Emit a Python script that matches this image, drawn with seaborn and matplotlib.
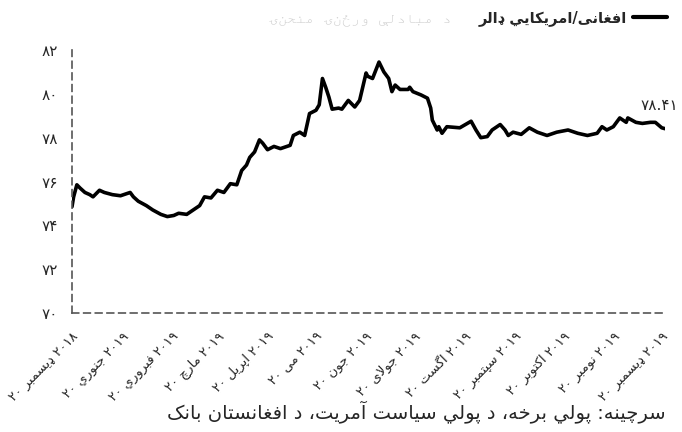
import re
import pandas as pd
import matplotlib
matplotlib.use("Agg")
import matplotlib.pyplot as plt
import seaborn as sns
from matplotlib import font_manager, ft2font

# ---------------- data ----------------
start_date = "2018-12-20"
day_offsets = [0, 1, 3, 5, 8, 11, 13, 17, 20, 25, 30, 36, 38, 41, 46, 50, 55, 59, 63, 66,
               71, 75, 79, 82, 86, 90, 94, 98, 102, 105, 108, 110, 113, 116, 118, 121, 125,
               129, 135, 137, 141, 144, 147, 151, 153, 155, 157, 159, 161, 165, 167, 171,
               175, 178, 182, 183, 186, 190, 193, 196, 198, 200, 203, 208, 209, 211, 216,
               220, 222, 223, 226, 227, 229, 232, 240, 247, 250, 253, 257, 260, 265, 268,
               270, 273, 278, 283, 288, 294, 300, 307, 313, 319, 325, 328, 331, 335, 339,
               343, 344, 349, 353, 358, 361, 365, 367]
rate = [74.85, 75.3, 75.85, 75.7, 75.5, 75.4, 75.3, 75.6, 75.5, 75.4, 75.35, 75.5, 75.3,
        75.1, 74.9, 74.7, 74.5, 74.4, 74.45, 74.55, 74.5, 74.7, 74.9, 75.3, 75.25, 75.6,
        75.5, 75.9, 75.85, 76.5, 76.75, 77.1, 77.35, 77.9, 77.75, 77.45, 77.6, 77.5, 77.65,
        78.1, 78.25, 78.1, 79.1, 79.25, 79.5, 80.7, 80.3, 79.85, 79.3, 79.35, 79.3, 79.7,
        79.4, 79.7, 80.95, 80.8, 80.7, 81.45, 81.0, 80.7, 80.1, 80.4, 80.2, 80.2, 80.3,
        80.1, 79.95, 79.8, 79.35, 78.8, 78.35, 78.5, 78.2, 78.5, 78.45, 78.75, 78.35, 78.0,
        78.05, 78.35, 78.6, 78.35, 78.1, 78.25, 78.15, 78.45, 78.25, 78.1, 78.25, 78.35,
        78.2, 78.1, 78.2, 78.5, 78.35, 78.5, 78.9, 78.7, 78.9, 78.7, 78.65, 78.7, 78.7,
        78.45, 78.41]
last_label = "78.41"
y_ticks = [70, 72, 74, 76, 78, 80, 82]
tick_dates = ["2018-12-20", "2019-01-20", "2019-02-20", "2019-03-20", "2019-04-20",
              "2019-05-20", "2019-06-20", "2019-07-20", "2019-08-20", "2019-09-20",
              "2019-10-20", "2019-11-20", "2019-12-20"]
month_names = ["ډيسمبر", "جنوري", "فبروري", "مارچ", "اپريل", "مى", "جون", "جولاى",
               "اگست", "سپتمبر", "اکتوبر", "نومبر", "ډيسمبر"]
tick_years = ["2018"] + ["2019"] * 12
series_name = "افغانی/امريکايي ډالر"
title_faded = "د مبادلې ورځنۍ منحنۍ"
source_text = "سرچینه: پولي برخه، د پولي سياست آمريت، د افغانستان بانک"

# ---------------- Arabic presentation forms ----------------
def F(a, b, c=None, d=None):
    return tuple(chr(x) if x else None for x in (a, b, c, d))


FORMS = {
    'ا': F(0xFE8D, 0xFE8E), 'آ': F(0xFE81, 0xFE82),
    'ب': F(0xFE8F, 0xFE90, 0xFE91, 0xFE92), 'ت': F(0xFE95, 0xFE96, 0xFE97, 0xFE98),
    'ج': F(0xFE9D, 0xFE9E, 0xFE9F, 0xFEA0), 'ح': F(0xFEA1, 0xFEA2, 0xFEA3, 0xFEA4),
    'خ': F(0xFEA5, 0xFEA6, 0xFEA7, 0xFEA8), 'د': F(0xFEA9, 0xFEAA),
    'ر': F(0xFEAD, 0xFEAE), 'ز': F(0xFEAF, 0xFEB0),
    'س': F(0xFEB1, 0xFEB2, 0xFEB3, 0xFEB4), 'ش': F(0xFEB5, 0xFEB6, 0xFEB7, 0xFEB8),
    'ع': F(0xFEC9, 0xFECA, 0xFECB, 0xFECC), 'غ': F(0xFECD, 0xFECE, 0xFECF, 0xFED0),
    'ف': F(0xFED1, 0xFED2, 0xFED3, 0xFED4), 'ق': F(0xFED5, 0xFED6, 0xFED7, 0xFED8),
    'ل': F(0xFEDD, 0xFEDE, 0xFEDF, 0xFEE0), 'م': F(0xFEE1, 0xFEE2, 0xFEE3, 0xFEE4),
    'ن': F(0xFEE5, 0xFEE6, 0xFEE7, 0xFEE8), 'ه': F(0xFEE9, 0xFEEA, 0xFEEB, 0xFEEC),
    'و': F(0xFEED, 0xFEEE), 'ى': F(0xFEEF, 0xFEF0),
    'ي': F(0xFEF1, 0xFEF2, 0xFEF3, 0xFEF4),
    'پ': F(0xFB56, 0xFB57, 0xFB58, 0xFB59), 'چ': F(0xFB7A, 0xFB7B, 0xFB7C, 0xFB7D),
    'ک': F(0xFB8E, 0xFB8F, 0xFB90, 0xFB91), 'گ': F(0xFB92, 0xFB93, 0xFB94, 0xFB95),
    'ی': F(0xFBFC, 0xFBFD, 0xFBFE, 0xFBFF), 'ې': F(0xFBE4, 0xFBE5, 0xFBE6, 0xFBE7),
    'LA': F(0xFEFB, 0xFEFC), 'LAA': F(0xFEF5, 0xFEF6),
}


def cmap_of(path):
    return ft2font.FT2Font(path).get_charmap()


def shape_word(w, cmap):
    """Contextual forms, returned in visual (left-to-right) order."""
    def forms(t):
        f = FORMS.get(t)
        if f is None:
            return None
        f = tuple(x if (x is not None and ord(x) in cmap) else None for x in f)
        return f if f[0] else None

    toks, i = [], 0
    while i < len(w):
        if w[i] == 'ل' and i + 1 < len(w) and w[i + 1] in 'اآ':
            toks.append('LA' if w[i + 1] == 'ا' else 'LAA')
            i += 2
        else:
            toks.append(w[i])
            i += 1
    out = []
    for k, t in enumerate(toks):
        f = forms(t)
        if f is None:
            out.append({'LA': 'لا', 'LAA': 'لآ'}.get(t, t)[::-1])
            continue
        pf = forms(toks[k - 1]) if k > 0 else None
        nf = forms(toks[k + 1]) if k + 1 < len(toks) else None
        jp = pf is not None and pf[2] is not None and f[1] is not None
        jn = f[2] is not None and nf is not None and nf[1] is not None
        if jp and jn and f[3]:
            g = f[3]
        elif jp:
            g = f[1]
        elif jn:
            g = f[2]
        else:
            g = f[0]
        out.append(g)
    return ''.join(reversed(out))


PDIG = {str(d): chr(0x06F0 + d) for d in range(10)}
LRM = "\u200E"
DIGITS = re.compile(r'^[\u06F0-\u06F90-9.]+$')


def pdigits(s):
    return "".join(PDIG.get(c, c) for c in s)


def word_vis(w, cmap, punct_left):
    if DIGITS.match(w):
        return w
    m = re.match(r'^(.*?)([:،]*)$', w)
    core = shape_word(m.group(1), cmap)
    return (m.group(2) + core) if punct_left else (core + m.group(2))


def prep_ltr(s, cmap):
    # date labels: words kept left-to-right as in the reference
    s = pdigits(s)
    return LRM + (" " + LRM).join(word_vis(w, cmap, False) for w in s.split(" ")) + LRM


def prep_rtl(s, cmap):
    # proper right-to-left line: first word at the right end
    s = pdigits(s)
    words = []
    for w in s.split(" "):
        parts = [word_vis(p, cmap, True) for p in w.split("/")]
        words.append((LRM + "/" + LRM).join(reversed(parts)))
    return LRM + (" " + LRM).join(reversed(words)) + LRM


# fonts
dv_path = font_manager.findfont("DejaVu Sans")
dv_bold_path = font_manager.findfont(font_manager.FontProperties(family="DejaVu Sans",
                                                                 weight="bold"))
DV = cmap_of(dv_path)
DVB = cmap_of(dv_bold_path)
title_path = None
for f in sorted(font_manager.findSystemFonts()):
    try:
        cm = cmap_of(f)
    except Exception:
        continue
    if 0x06CD in cm and 0x0681 in cm and 0xFEE3 in cm and 0xFBE5 in cm \
            and "unifont" not in f.lower() and "italic" not in f.lower():
        title_path = f
        break
if title_path is None:
    title_path = dv_path
TCM = cmap_of(title_path)

# ---------------- plot ----------------
sns.set_style("white")
plt.rcParams["font.family"] = "DejaVu Sans"

dates = pd.to_datetime(start_date) + pd.to_timedelta(day_offsets, unit="D")
df = pd.DataFrame({"date": dates, "rate": rate})

fig = plt.figure(figsize=(6.82, 4.32), dpi=100)
ax = fig.add_axes([72 / 682, 1 - 313 / 432, (665 - 72) / 682, (313 - 50) / 432])

sns.lineplot(data=df, x="date", y="rate", ax=ax, color="black", linewidth=2.6,
             label=prep_rtl(series_name, DVB))

ax.set_ylim(70, 82)
ax.set_xlim(dates[0], dates[-1])
ax.set_yticks(y_ticks)
ax.set_yticklabels([pdigits(str(v)) for v in y_ticks], fontsize=11)
ax.set_xticks(pd.to_datetime(tick_dates))
ax.set_xticklabels([prep_ltr(f"20 {m} {y}", DV) for m, y in zip(month_names, tick_years)],
                   rotation=45, ha="right", rotation_mode="anchor", fontsize=9.5)
ax.set_xlabel("")
ax.set_ylabel("")

for s in ["top", "right"]:
    ax.spines[s].set_visible(False)
for s in ["left", "bottom"]:
    ax.spines[s].set_linestyle((0, (4, 3)))
    ax.spines[s].set_color("#555555")
    ax.spines[s].set_linewidth(1.2)
ax.tick_params(axis="y", direction="out", length=4, color="#555555", pad=6)
ax.tick_params(axis="x", direction="inout", length=6, color="#555555", pad=9)

ax.annotate(pdigits(last_label), xy=(dates[-1], rate[-1]), xytext=(-4, 17),
            textcoords="offset points", ha="center", va="center", fontsize=11)

leg = ax.legend(loc="center right", bbox_to_anchor=(1.025, 1.12), frameon=False,
                markerfirst=False, prop={"family": "DejaVu Sans", "weight": "bold",
                                         "size": 10.5},
                handlelength=2.3, handletextpad=0.4)
for h in leg.get_lines():
    h.set_linewidth(3)

fig.text(452 / 682, 1 - 19 / 432, prep_rtl(title_faded, TCM), ha="right", va="center",
         color="#cfcfcf",
         fontproperties=font_manager.FontProperties(fname=title_path, size=11))
fig.text(416 / 682, 1 - 412 / 432, prep_rtl(source_text, DV), ha="center", va="center",
         fontsize=14)

fig.savefig("out.png", dpi=100)
